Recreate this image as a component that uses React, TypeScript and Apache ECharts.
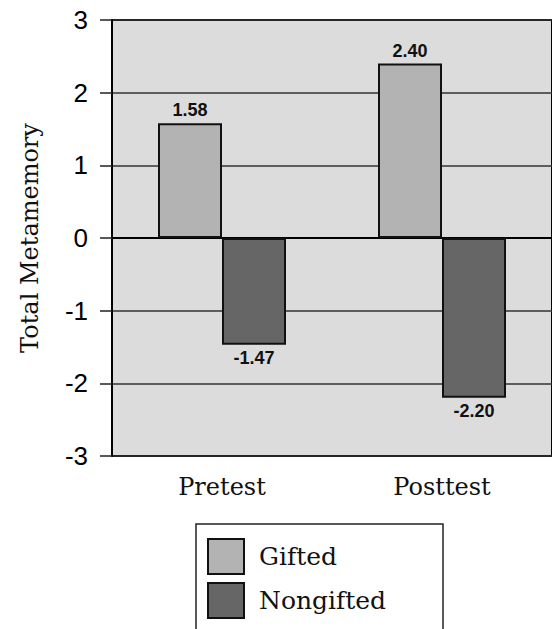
import React, { useEffect, useRef } from "react";
import * as echarts from "echarts";

const categories = ["Pretest", "Posttest"];
const seriesNames = ["Gifted", "Nongifted"];
const giftedValues = [1.58, 2.4];
const nongiftedValues = [-1.47, -2.2];
const yTicks = [-3, -2, -1, 0, 1, 2, 3];

const SERIF = "'DejaVu Serif', serif";
const SANS = "'Liberation Sans', Arial, sans-serif";

function items(values: number[]) {
  return values.map((v) => ({
    value: v,
    label: { position: v >= 0 ? "top" : "bottom" },
  }));
}

export default function App() {
  const ref = useRef<HTMLDivElement>(null);
  useEffect(() => {
    if (!ref.current) return;
    const chart = echarts.init(ref.current, null, { renderer: "svg" });
    const labelStyle = {
      show: true,
      fontFamily: SANS,
      fontWeight: "bold" as const,
      fontSize: 18,
      color: "#111",
      distance: 4,
      formatter: (p: any) => Number(p.value).toFixed(2),
    };
    chart.setOption({
      animation: false,
      backgroundColor: "#ffffff",
      grid: {
        left: 112,
        top: 20,
        bottom: 173,
        right: -3,
        show: true,
        backgroundColor: "#dcdcdc",
        borderColor: "#000",
        borderWidth: 2,
      },
      legend: {
        orient: "vertical",
        left: 207,
        top: 538,
        padding: 0,
        itemWidth: 36,
        itemHeight: 35,
        itemGap: 7,
        icon: "rect",
        textStyle: {
          fontFamily: SERIF,
          fontSize: 25,
          color: "#111",
          padding: [0, 0, 0, 10],
        },
        data: seriesNames,
      },
      xAxis: {
        type: "category",
        data: categories,
        axisLine: { show: true, lineStyle: { color: "#000", width: 2 } },
        axisTick: { show: false },
        axisLabel: {
          fontFamily: SERIF,
          fontSize: 24,
          color: "#111",
          margin: 19,
        },
      },
      yAxis: {
        type: "value",
        min: yTicks[0],
        max: yTicks[yTicks.length - 1],
        interval: 1,
        name: "Total Metamemory",
        nameLocation: "middle",
        nameGap: 70,
        nameTextStyle: { fontFamily: SERIF, fontSize: 24, color: "#111" },
        axisLine: { show: true, lineStyle: { color: "#000", width: 2 } },
        axisTick: { show: true, inside: false, length: 12, lineStyle: { color: "#222", width: 1.5 } },
        axisLabel: {
          fontFamily: SANS,
          fontSize: 26,
          color: "#000",
          margin: 24,
        },
        splitLine: { show: true, lineStyle: { color: "#333", width: 1.5 } },
      },
      graphic: [
        {
          type: "rect",
          shape: { x: 196, y: 524, width: 247, height: 140 },
          style: { fill: "none", stroke: "#222", lineWidth: 1.5 },
          z: 10,
        },
      ],
      series: [
        {
          name: seriesNames[0],
          type: "bar",
          data: items(giftedValues),
          barWidth: 64,
          barGap: "0%",
          itemStyle: { color: "#b3b3b3", borderColor: "#111", borderWidth: 2 },
          label: labelStyle,
        },
        {
          name: seriesNames[1],
          type: "bar",
          data: items(nongiftedValues),
          barWidth: 64,
          barGap: "0%",
          itemStyle: { color: "#666666", borderColor: "#111", borderWidth: 2 },
          label: labelStyle,
        },
      ],
    });
    return () => chart.dispose();
  }, []);
  return (
    <div
      ref={ref}
      style={{ position: "absolute", left: 0, top: 0, width: 552, height: 629 }}
    />
  );
}
